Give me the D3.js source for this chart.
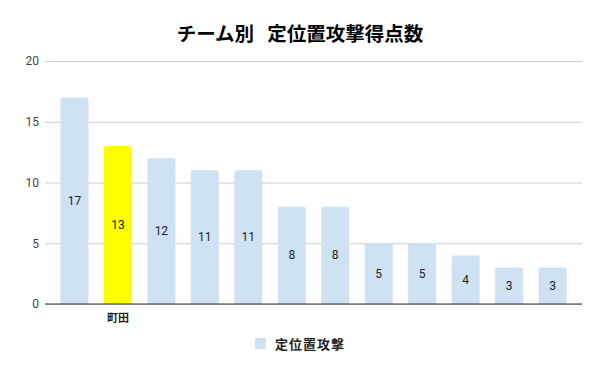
<!DOCTYPE html>
<html><head><meta charset="utf-8">
<script src="https://cdn.jsdelivr.net/npm/d3@7"></script>
<style>body{margin:0;background:#fff}svg{display:block}</style>
</head><body>
<script>
const categories = ["", "町田", "", "", "", "", "", "", "", "", "", ""];
const values = [17, 13, 12, 11, 11, 8, 8, 5, 5, 4, 3, 3];
const highlight = "町田";
const yTicks = [0, 5, 10, 15, 20];
const title = "チーム別\u00a0\u00a0\u00a0定位置攻撃得点数";
const seriesName = "定位置攻撃";

const W = 600, H = 371;
const m = {l: 45, r: 18, t: 61, b: 67};
const svg = d3.select("body").append("svg").attr("width", W).attr("height", H);
const font = "Roboto, 'Noto Sans CJK JP', sans-serif";

const x = d3.scaleBand().domain(d3.range(categories.length)).range([m.l, W - m.r]).padding(0.355);
const y = d3.scaleLinear().domain([0, 20]).range([H - m.b, m.t]);

svg.append("text").attr("x", 300).attr("y", 40.5).attr("text-anchor", "middle")
  .attr("font-family", "'Noto Sans CJK JP', sans-serif").attr("font-weight", "bold")
  .attr("font-size", 19.5).attr("fill", "#000").text(title);

const ya = svg.append("g").attr("transform", `translate(${m.l},0)`)
  .call(d3.axisLeft(y).tickValues(yTicks).tickSize(-(W - m.l - m.r)).tickPadding(6));
ya.select(".domain").remove();
ya.selectAll(".tick line").attr("stroke", "#cccccc");
ya.selectAll(".tick text").attr("font-family", font).attr("font-size", 12).attr("fill", "#444");

svg.append("g").selectAll("path").data(values).join("path")
  .attr("d", (d, i) => {
    const x0 = x(i), w = x.bandwidth(), y0 = y(d), y1 = y(0), r = 2;
    return `M${x0},${y1}V${y0 + r}Q${x0},${y0} ${x0 + r},${y0}H${x0 + w - r}Q${x0 + w},${y0} ${x0 + w},${y0 + r}V${y1}Z`;
  })
  .attr("fill", (d, i) => categories[i] === highlight ? "#ffff00" : "#cfe2f3");

svg.append("g").selectAll("text").data(values).join("text")
  .attr("x", (d, i) => x(i) + x.bandwidth() / 2)
  .attr("y", d => (y(d) + y(0)) / 2 + 4)
  .attr("text-anchor", "middle").attr("font-family", font).attr("font-size", 12)
  .attr("fill", "#222").text(d => d);

svg.append("line").attr("x1", m.l).attr("x2", W - m.r).attr("y1", y(0)).attr("y2", y(0))
  .attr("stroke", "#333").attr("stroke-width", 1);

svg.append("g").selectAll("text").data(categories).join("text")
  .attr("x", (d, i) => x(i) + x.bandwidth() / 2).attr("y", y(0) + 18)
  .attr("text-anchor", "middle").attr("font-family", "'Noto Sans CJK JP', sans-serif")
  .attr("font-weight", "bold").attr("font-size", 11).attr("fill", "#222").text(d => d);

const lg = svg.append("g");
lg.append("rect").attr("x", 255).attr("y", 338).attr("width", 11).attr("height", 11).attr("fill", "#cfe2f3");
lg.append("text").attr("x", 275).attr("y", 348.5).attr("font-family", "'Noto Sans CJK JP', sans-serif")
  .attr("font-weight", "bold").attr("font-size", 13).attr("letter-spacing", 1)
  .attr("fill", "#222").text(seriesName);
</script>
</body></html>
